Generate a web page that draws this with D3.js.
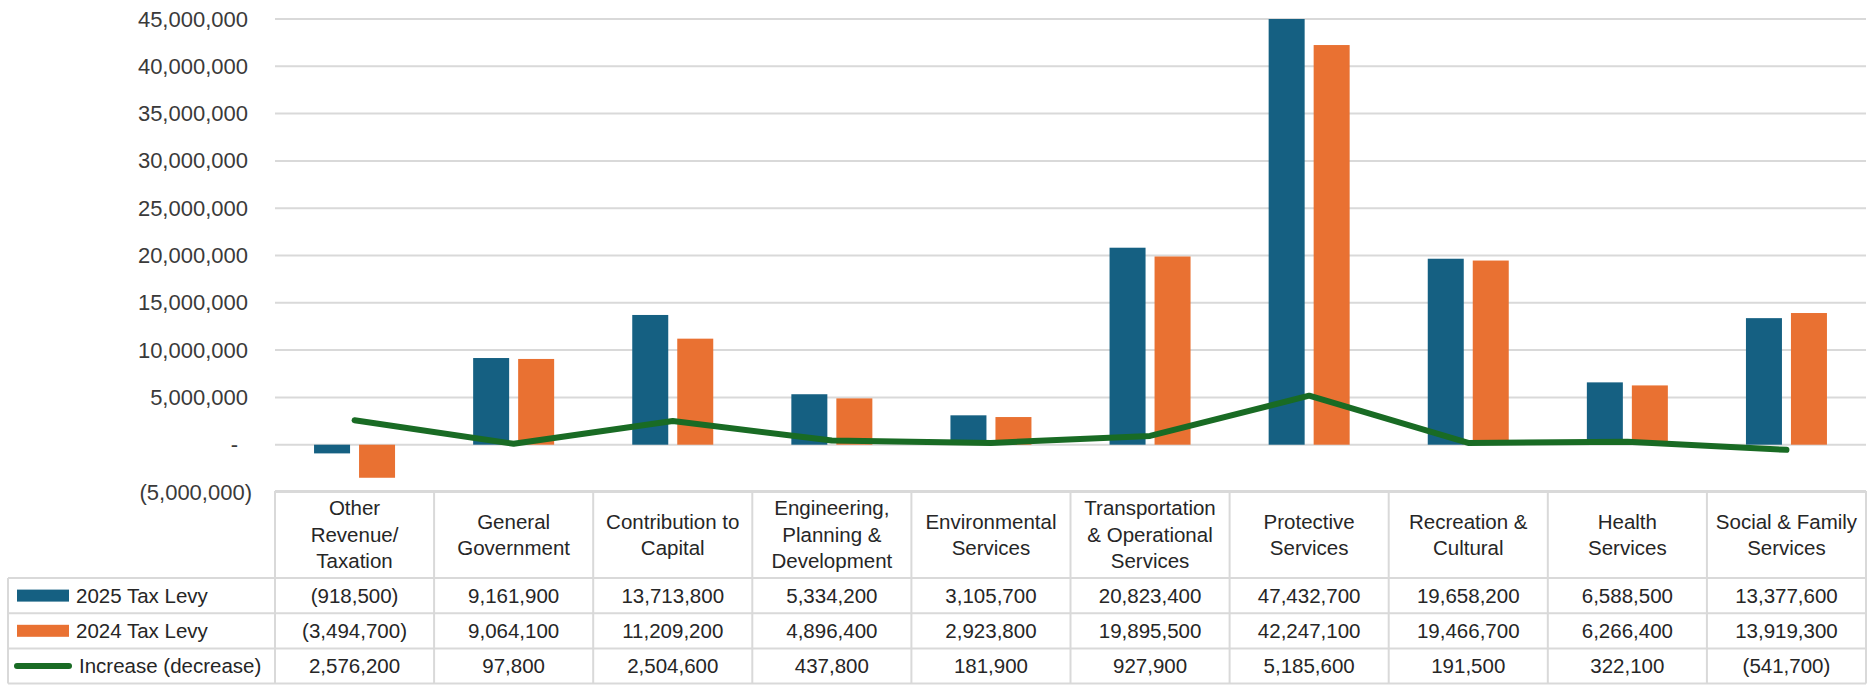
<!DOCTYPE html>
<html>
<head>
<meta charset="utf-8">
<script src="https://cdn.jsdelivr.net/npm/d3@7"></script>
<style>
  html, body { margin: 0; padding: 0; background: #fff; }
  svg { display: block; font-family: "Liberation Sans", Arial, sans-serif; }
</style>
</head>
<body>
<svg id="chart" width="1873" height="685"></svg>
<script>
const categories = [
  "Other Revenue/ Taxation", "General Government", "Contribution to Capital",
  "Engineering, Planning & Development", "Environmental Services",
  "Transportation & Operational Services", "Protective Services",
  "Recreation & Cultural", "Health Services", "Social & Family Services"
];
const categoryLines = [
  ["Other", "Revenue/", "Taxation"],
  ["General", "Government"],
  ["Contribution to", "Capital"],
  ["Engineering,", "Planning &", "Development"],
  ["Environmental", "Services"],
  ["Transportation", "& Operational", "Services"],
  ["Protective", "Services"],
  ["Recreation &", "Cultural"],
  ["Health", "Services"],
  ["Social & Family", "Services"]
];
const levy2025 = [-918500, 9161900, 13713800, 5334200, 3105700, 20823400, 47432700, 19658200, 6588500, 13377600];
const levy2024 = [-3494700, 9064100, 11209200, 4896400, 2923800, 19895500, 42247100, 19466700, 6266400, 13919300];
const increase = [2576200, 97800, 2504600, 437800, 181900, 927900, 5185600, 191500, 322100, -541700];
const seriesNames = ["2025 Tax Levy", "2024 Tax Levy", "Increase (decrease)"];
const yTicks = [-5000000, 0, 5000000, 10000000, 15000000, 20000000, 25000000, 30000000, 35000000, 40000000, 45000000];

const colors = { "2025 Tax Levy": "#156082", "2024 Tax Levy": "#E97132", "Increase (decrease)": "#196B24" };
const gridColor = "#d9d9d9";

const svg = d3.select("#chart");
const plotLeft = 275, plotRight = 1866, plotTop = 19, plotBottom = 492;

const x = d3.scaleBand().domain(categories).range([plotLeft, plotRight]).paddingInner(0).paddingOuter(0);
const x1 = d3.scaleBand().domain(seriesNames.slice(0, 2)).range([-40.5, 40.5]).paddingInner(0.2).paddingOuter(0);
const y = d3.scaleLinear().domain([-5000000, 45000000]).range([plotBottom, plotTop]).clamp(true);

const fmtNum = d3.format(",");
const acct = v => v < 0 ? "(" + fmtNum(-v) + ")" : (v === 0 ? "-" : fmtNum(v));

// Gridlines
svg.append("g").selectAll("line").data(yTicks).join("line")
  .attr("x1", plotLeft).attr("x2", plotRight)
  .attr("y1", d => y(d)).attr("y2", d => y(d))
  .attr("stroke", gridColor).attr("stroke-width", 2);

// Y axis
const yAxis = svg.append("g").attr("transform", `translate(${plotLeft},0)`)
  .call(d3.axisLeft(y).tickValues(yTicks).tickSize(0).tickPadding(27).tickFormat(acct));
yAxis.select(".domain").remove();
yAxis.selectAll("text")
  .attr("font-size", 22).attr("fill", "#3a3a3a")
  .attr("font-family", "Liberation Sans, Arial, sans-serif")
  .attr("x", d => d < 0 ? -23 : (d === 0 ? -37 : -27));

// Bars
const barData = [];
categories.forEach((c, i) => {
  barData.push({ cat: c, s: seriesNames[0], v: levy2025[i] });
  barData.push({ cat: c, s: seriesNames[1], v: levy2024[i] });
});
svg.append("g").selectAll("rect").data(barData).join("rect")
  .attr("x", d => x(d.cat) + x.bandwidth() / 2 + x1(d.s))
  .attr("width", x1.bandwidth())
  .attr("y", d => Math.min(y(d.v), y(0)))
  .attr("height", d => Math.abs(y(d.v) - y(0)))
  .attr("fill", d => colors[d.s]);

// Line
const line = d3.line()
  .x((d, i) => x(categories[i]) + x.bandwidth() / 2)
  .y(d => y(d));
svg.append("path").datum(increase)
  .attr("d", line)
  .attr("fill", "none")
  .attr("stroke", colors[seriesNames[2]])
  .attr("stroke-width", 6)
  .attr("stroke-linejoin", "round")
  .attr("stroke-linecap", "round");

// Data table
const tableLeft = 8;
const headerTop = 491, headerBottom = 578;
const rowH = 35.2;
const rowTops = [headerBottom, headerBottom + rowH, headerBottom + 2 * rowH];
const tableBottom = headerBottom + 3 * rowH;
const tg = svg.append("g");
const textColor = "#262626";
const fs = 20.5;

// horizontal lines
tg.append("line").attr("x1", plotLeft).attr("x2", plotRight).attr("y1", headerTop).attr("y2", headerTop)
  .attr("stroke", gridColor).attr("stroke-width", 2);
[headerBottom, rowTops[1], rowTops[2], tableBottom].forEach(yy => {
  tg.append("line").attr("x1", tableLeft).attr("x2", plotRight).attr("y1", yy).attr("y2", yy)
    .attr("stroke", gridColor).attr("stroke-width", 2);
});
// vertical lines
tg.append("line").attr("x1", tableLeft).attr("x2", tableLeft).attr("y1", headerBottom).attr("y2", tableBottom)
  .attr("stroke", gridColor).attr("stroke-width", 2);
const vx = categories.map(c => x(c)).concat([plotRight]);
tg.selectAll("line.v").data(vx).join("line").attr("class", "v")
  .attr("x1", d => d).attr("x2", d => d).attr("y1", headerTop).attr("y2", tableBottom)
  .attr("stroke", gridColor).attr("stroke-width", 2);

// header labels
const headerCenter = (headerTop + headerBottom) / 2;
const lh = 26.5;
categories.forEach((c, i) => {
  const lines = categoryLines[i];
  const t = tg.append("text").attr("text-anchor", "middle").attr("font-size", fs).attr("fill", textColor);
  lines.forEach((ln, j) => {
    t.append("tspan").attr("x", x(c) + x.bandwidth() / 2)
      .attr("y", headerCenter - (lines.length - 1) / 2 * lh + j * lh + 7.3)
      .text(ln);
  });
});

// rows
const rowsData = [levy2025, levy2024, increase];
rowsData.forEach((vals, r) => {
  const cy = rowTops[r] + rowH / 2;
  tg.selectAll(null).data(vals).join("text")
    .attr("x", (d, i) => x(categories[i]) + x.bandwidth() / 2)
    .attr("y", cy + 7.3)
    .attr("text-anchor", "middle").attr("font-size", fs).attr("fill", textColor)
    .text(d => acct(d));
  // legend cell
  const name = seriesNames[r];
  if (r < 2) {
    tg.append("rect").attr("x", 17).attr("y", cy - 6).attr("width", 52).attr("height", 12).attr("fill", colors[name]);
    tg.append("text").attr("x", 76).attr("y", cy + 7.3).attr("font-size", fs).attr("fill", textColor).text(name);
  } else {
    tg.append("line").attr("x1", 17).attr("x2", 69).attr("y1", cy).attr("y2", cy)
      .attr("stroke", colors[name]).attr("stroke-width", 6).attr("stroke-linecap", "round");
    tg.append("text").attr("x", 79).attr("y", cy + 7.3).attr("font-size", fs).attr("fill", textColor).text(name);
  }
});
</script>
</body>
</html>
